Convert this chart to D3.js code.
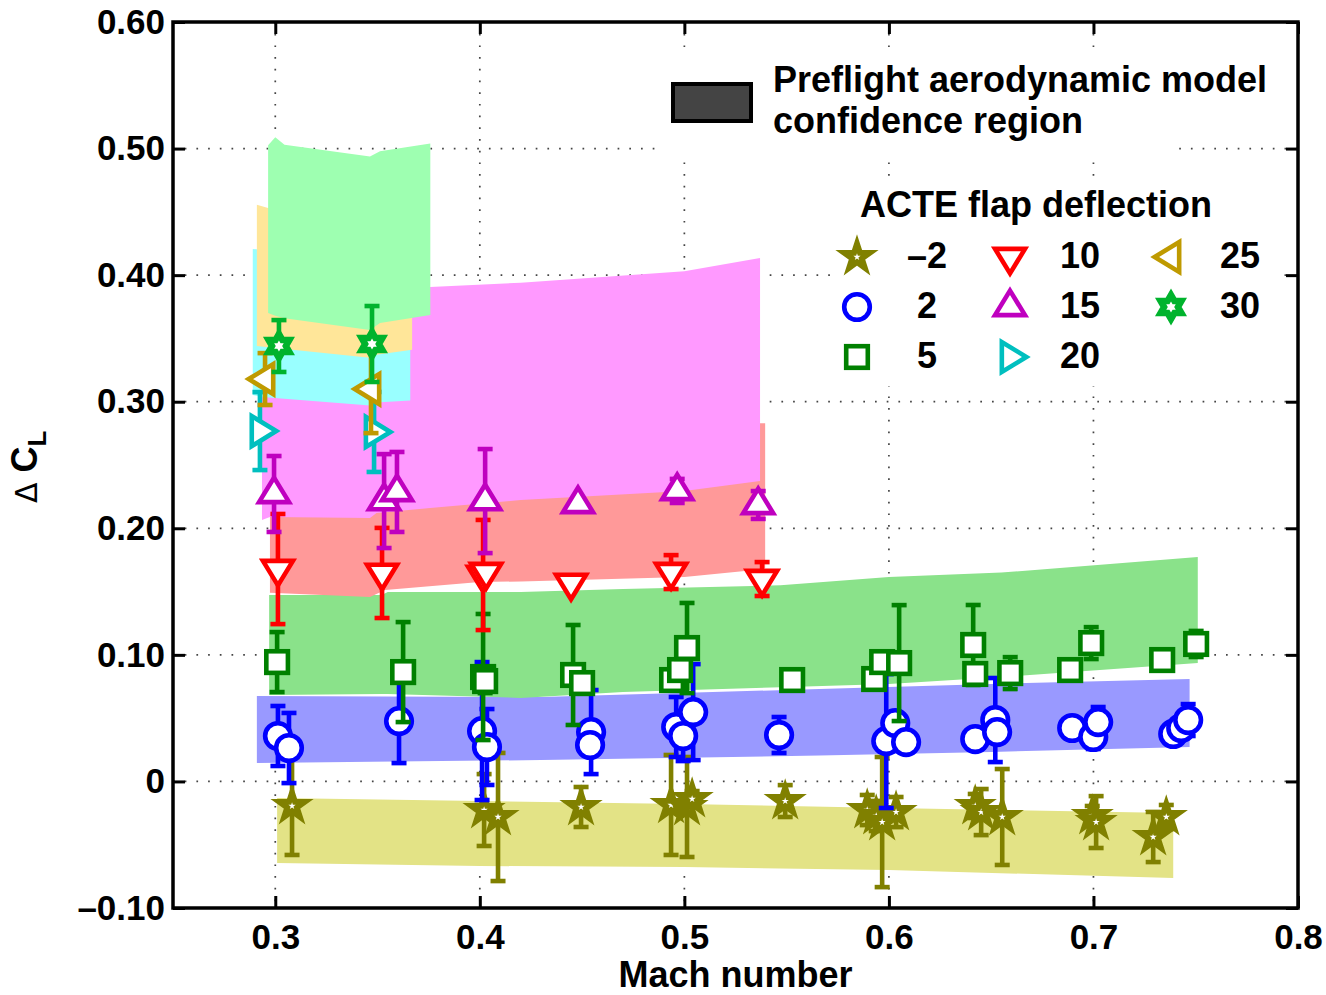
<!DOCTYPE html>
<html>
<head>
<meta charset="utf-8">
<script src="https://cdn.jsdelivr.net/npm/d3@7"></script>
<style>
  body { margin: 0; background: #fff; }
  text { font-family: "Liberation Sans", Arial, Helvetica, sans-serif; font-weight: bold; fill: #000; }
</style>
</head>
<body>
<svg id="chart" width="1326" height="995"></svg>
<script>
// ---------------------------------------------------------------
// Flight-test increments in lift coefficient vs Mach number,
// one series per ACTE flap deflection (Mach, dCL, +/- error)
// ---------------------------------------------------------------
const machFm2 = [0.3082, 0.4021, 0.4089, 0.4495, 0.4935, 0.5013, 0.5038, 0.5493, 0.5894, 0.5938, 0.5967, 0.6035, 0.6422, 0.6451, 0.6554, 0.6994, 0.7013, 0.7292, 0.7356];
const dclFm2  = [-0.0194, -0.0226, -0.0281, -0.0202, -0.0186, -0.0202, -0.0139, -0.0155, -0.0226, -0.0273, -0.0321, -0.0242, -0.0194, -0.0242, -0.0281, -0.0273, -0.0321, -0.0439, -0.0281];
const errFm2  = [0.0387, 0.0284, 0.0506, 0.0158, 0.0395, 0.0395, 0.0063, 0.0126, 0.0119, 0.0119, 0.0514, 0.0119, 0.0095, 0.0182, 0.0379, 0.0079, 0.0205, 0.0198, 0.0095];

const machF2 = [0.3013, 0.3067, 0.3605, 0.4011, 0.4035, 0.4544, 0.4539, 0.4960, 0.4994, 0.5043, 0.5463, 0.5987, 0.6031, 0.6084, 0.6422, 0.6520, 0.6529, 0.6896, 0.6999, 0.7023, 0.7390, 0.7429, 0.7463];
const dclF2  = [0.0359, 0.0264, 0.0477, 0.0398, 0.0272, 0.0390, 0.0288, 0.0430, 0.0359, 0.0548, 0.0367, 0.0319, 0.0461, 0.0311, 0.0335, 0.0485, 0.0390, 0.0422, 0.0351, 0.0469, 0.0375, 0.0422, 0.0485];
const errF2  = [0.0237, 0.0277, 0.0332, 0.0545, 0.0300, 0.0332, 0.0079, 0.0237, 0.0198, 0.0379, 0.0142, 0.0529, 0.0063, 0.0063, 0.0063, 0.0332, 0.0063, 0.0047, 0.0095, 0.0119, 0.0047, 0.0047, 0.0126];

const machF5 = [0.3009, 0.3625, 0.4016, 0.4026, 0.4456, 0.4500, 0.4940, 0.4979, 0.5013, 0.5527, 0.5928, 0.5967, 0.6050, 0.6412, 0.6422, 0.6593, 0.6886, 0.6989, 0.7336, 0.7502];
const dclF5  = [0.0943, 0.0864, 0.0825, 0.0793, 0.0841, 0.0777, 0.0801, 0.0880, 0.1054, 0.0801, 0.0809, 0.0943, 0.0935, 0.1078, 0.0849, 0.0856, 0.0880, 0.1093, 0.0959, 0.1086];
const errF5  = [0.0237, 0.0395, 0.0498, 0.0095, 0.0395, 0, 0, 0, 0.0356, 0.0047, 0, 0, 0.0458, 0.0316, 0, 0.0126, 0, 0.0126, 0, 0.0103];

const machF10 = [0.3013, 0.3522, 0.4016, 0.4031, 0.4446, 0.4935, 0.5380];
const dclF10  = [0.1678, 0.1647, 0.1631, 0.1654, 0.1568, 0.1654, 0.1599];
const errF10  = [0.0435, 0.0356, 0.0435, 0, 0, 0.0134, 0.0134];

const machF15 = [0.2994, 0.3532, 0.3595, 0.4026, 0.4480, 0.4965, 0.5361];
const dclF15  = [0.2271, 0.2215, 0.2287, 0.2215, 0.2192, 0.2295, 0.2184];
const errF15  = [0.0300, 0.0371, 0.0316, 0.0411, 0, 0.0095, 0.0110];

const machF20 = [0.2925, 0.3483];
const dclF20  = [0.2768, 0.2761];
const errF20  = [0.0308, 0.0316];

const machF25 = [0.2950, 0.3468];
const dclF25  = [0.3179, 0.3100];
const errF25  = [0.0205, 0.0348];

const machF30 = [0.3018, 0.3473];
const dclF30  = [0.3440, 0.3456];
const errF30  = [0.0205, 0.0300];

// ---------------------------------------------------------------
// Preflight aerodynamic model confidence bands (Mach, upper, lower)
// ---------------------------------------------------------------
const bandMachFm2 = [0.3009, 0.40, 0.50, 0.60, 0.739];
const bandHiFm2   = [-0.0130, -0.0155, -0.0178, -0.0210, -0.0249];
const bandLoFm2   = [-0.0644, -0.0668, -0.0676, -0.0700, -0.0763];

const bandMachF2 = [0.291, 0.43, 0.566, 0.65, 0.747];
const bandHiF2   = [0.0675, 0.0667, 0.0730, 0.0770, 0.0809];
const bandLoF2   = [0.0145, 0.0169, 0.0205, 0.0233, 0.0272];

const bandMachF5 = [0.297, 0.352, 0.355, 0.42, 0.47, 0.547, 0.60, 0.655, 0.751];
const bandHiF5   = [0.1473, 0.1473, 0.1497, 0.1497, 0.1520, 0.1550, 0.1615, 0.1650, 0.1773];
const bandLoF5   = [0.0683, 0.0690, 0.0690, 0.0660, 0.0707, 0.0745, 0.0770, 0.0825, 0.0936];

const bandMachF10 = [0.2974, 0.3463, 0.3537, 0.40, 0.42, 0.50, 0.537, 0.5395];
const bandHiF10   = [0.250, 0.255, 0.260, 0.265, 0.270, 0.278, 0.283, 0.283];
const bandLoF10   = [0.1490, 0.1457, 0.1512, 0.1575, 0.1580, 0.1615, 0.1675, 0.1686];

const bandMachF15 = [0.2935, 0.2974, 0.3463, 0.3495, 0.3757, 0.42, 0.50, 0.537];
const bandHiF15   = [0.385, 0.385, 0.388, 0.388, 0.3906, 0.394, 0.403, 0.4135];
const bandLoF15   = [0.2066, 0.2089, 0.2081, 0.2120, 0.2160, 0.2223, 0.2294, 0.2374];

const bandMachF20 = [0.289, 0.2935, 0.3463, 0.3495, 0.366];
const bandHiF20   = [0.4207, 0.420, 0.410, 0.410, 0.410];
const bandLoF20   = [0.3053, 0.3037, 0.2970, 0.2993, 0.3010];

const bandMachF25 = [0.291, 0.2965, 0.3463, 0.3495, 0.3669];
const bandHiF25   = [0.4556, 0.453, 0.450, 0.450, 0.450];
const bandLoF25   = [0.3440, 0.3430, 0.3347, 0.3371, 0.3410];

const bandMachF30 = [0.2965, 0.300, 0.3045, 0.3463, 0.3512, 0.3758];
const bandHiF30   = [0.5027, 0.509, 0.503, 0.4938, 0.4978, 0.5041];
const bandLoF30   = [0.3701, 0.368, 0.366, 0.3566, 0.3622, 0.3685];

// Axis ticks and legend labels
const xTickValues = [0.3, 0.4, 0.5, 0.6, 0.7, 0.8];
const yTickValues = [-0.1, 0, 0.1, 0.2, 0.3, 0.4, 0.5, 0.6];
const deflectionLabels = ["\u20132", "2", "5", "10", "15", "20", "25", "30"];
const bandLegendLines = ["Preflight aerodynamic model", "confidence region"];
const deflectionTitle = "ACTE flap deflection";

// ---------------------------------------------------------------
const series = [
  { mach: machFm2, dcl: dclFm2, err: errFm2, bm: bandMachFm2, bh: bandHiFm2, bl: bandLoFm2 },
  { mach: machF2,  dcl: dclF2,  err: errF2,  bm: bandMachF2,  bh: bandHiF2,  bl: bandLoF2 },
  { mach: machF5,  dcl: dclF5,  err: errF5,  bm: bandMachF5,  bh: bandHiF5,  bl: bandLoF5 },
  { mach: machF10, dcl: dclF10, err: errF10, bm: bandMachF10, bh: bandHiF10, bl: bandLoF10 },
  { mach: machF15, dcl: dclF15, err: errF15, bm: bandMachF15, bh: bandHiF15, bl: bandLoF15 },
  { mach: machF20, dcl: dclF20, err: errF20, bm: bandMachF20, bh: bandHiF20, bl: bandLoF20 },
  { mach: machF25, dcl: dclF25, err: errF25, bm: bandMachF25, bh: bandHiF25, bl: bandLoF25 },
  { mach: machF30, dcl: dclF30, err: errF30, bm: bandMachF30, bh: bandHiF30, bl: bandLoF30 }
];

// Marker shape, marker colour and band fill for each deflection
const styles = [
  { shape: "star",     color: "#808000", band: "#e3e386" },
  { shape: "circle",   color: "#0000ff", band: "#9999ff" },
  { shape: "square",   color: "#008000", band: "#8ae28a" },
  { shape: "down",     color: "#ff0000", band: "#ff9999" },
  { shape: "up",       color: "#bf00bf", band: "#ff99ff" },
  { shape: "right",    color: "#00bfbf", band: "#99ffff" },
  { shape: "left",     color: "#bf9a00", band: "#ffe699" },
  { shape: "hexagram", color: "#00b32d", band: "#9effb1" }
];

const W = 1326, H = 995;
const plot = { left: 173, right: 1298, top: 22, bottom: 908 };
const markerStroke = 4.6;
const barStroke = 4.6;

const x = d3.scaleLinear().domain([0.25, 0.8]).range([plot.left, plot.right]);
const y = d3.scaleLinear().domain([-0.1, 0.6]).range([plot.bottom, plot.top]);

const svg = d3.select("#chart");
svg.append("rect").attr("width", W).attr("height", H).attr("fill", "#fff");

// ----- dotted grid -----
const grid = svg.append("g").attr("stroke", "#444").attr("stroke-width", 1.7)
  .attr("stroke-dasharray", "1.7,10");
xTickValues.filter(v => v < 0.8).forEach(v => {
  grid.append("line").attr("x1", x(v)).attr("x2", x(v)).attr("y1", plot.top).attr("y2", plot.bottom);
});
yTickValues.filter(v => v > -0.1 && v < 0.6).forEach(v => {
  grid.append("line").attr("x1", plot.left).attr("x2", plot.right).attr("y1", y(v)).attr("y2", y(v));
});

// legend backgrounds hide the grid beneath them
svg.append("rect").attr("x", 655).attr("y", 48).attr("width", 520).attr("height", 112).attr("fill", "#fff");
svg.append("rect").attr("x", 830).attr("y", 176).attr("width", 450).attr("height", 210).attr("fill", "#fff");

// ----- confidence bands -----
const area = d3.area()
  .x(d => x(d.m))
  .y0(d => y(d.lo))
  .y1(d => y(d.hi));
const bandLayer = svg.append("g");
series.forEach((s, i) => {
  const pts = s.bm.map((m, k) => ({ m: m, hi: s.bh[k], lo: s.bl[k] }));
  bandLayer.append("path").attr("d", area(pts)).attr("fill", styles[i].band).attr("stroke", "none");
});

// ----- marker shapes -----
function pathFrom(pts) {
  return "M" + pts.map(p => p[0].toFixed(2) + "," + p[1].toFixed(2)).join("L") + "Z";
}
function starPoints(n, R, r) {
  const pts = [];
  for (let i = 0; i < 2 * n; i++) {
    const a = -Math.PI / 2 + i * Math.PI / n;
    const rad = i % 2 ? r : R;
    pts.push([rad * Math.cos(a), rad * Math.sin(a)]);
  }
  return pts;
}
function trianglePoints(dir, b, h) {
  const base = [[0, -2 * h / 3], [b / 2, h / 3], [-b / 2, h / 3]];
  const rot = { up: 0, right: 90, down: 180, left: 270 }[dir] * Math.PI / 180;
  return base.map(([px, py]) => [px * Math.cos(rot) - py * Math.sin(rot), px * Math.sin(rot) + py * Math.cos(rot)]);
}

function drawMarker(g, shape, color, cx, cy) {
  const t = "translate(" + cx + "," + cy + ")";
  if (shape === "circle") {
    g.append("circle").attr("cx", cx).attr("cy", cy).attr("r", 12.8)
      .attr("fill", "#fff").attr("stroke", color).attr("stroke-width", markerStroke);
  } else if (shape === "square") {
    g.append("rect").attr("x", cx - 10.8).attr("y", cy - 10.8).attr("width", 21.6).attr("height", 21.6)
      .attr("fill", "#fff").attr("stroke", color).attr("stroke-width", markerStroke);
  } else if (shape === "up" || shape === "down" || shape === "left" || shape === "right") {
    g.append("path").attr("transform", t).attr("d", pathFrom(trianglePoints(shape, 30, 24.5)))
      .attr("fill", "#fff").attr("stroke", color).attr("stroke-width", markerStroke)
      .attr("stroke-linejoin", "miter").attr("stroke-miterlimit", 10);
  } else if (shape === "star") {
    g.append("path").attr("transform", t).attr("d", pathFrom(starPoints(5, 19.5, 19.5 * 0.382)))
      .attr("fill", color).attr("stroke", color).attr("stroke-width", 2).attr("stroke-linejoin", "miter");
    g.append("path").attr("transform", t).attr("d", pathFrom(starPoints(5, 3.8, 3.8 * 0.382)))
      .attr("fill", "#fff");
  } else if (shape === "hexagram") {
    g.append("path").attr("transform", t).attr("d", pathFrom(starPoints(6, 16.5, 16.5 / Math.sqrt(3))))
      .attr("fill", color).attr("stroke", color).attr("stroke-width", 2);
    g.append("path").attr("transform", t).attr("d", pathFrom(starPoints(6, 5.5, 5.5 / Math.sqrt(3))))
      .attr("fill", "#fff");
  }
}

// ----- error bars and markers, one series after another -----
const capHalf = 7.5;
series.forEach((s, i) => {
  const st = styles[i];
  const g = svg.append("g");
  s.mach.forEach((m, k) => {
    const e = s.err[k];
    if (e > 0) {
      const cx = x(m), yTop = y(s.dcl[k] + e), yBot = y(s.dcl[k] - e);
      g.append("line").attr("x1", cx).attr("x2", cx).attr("y1", yTop).attr("y2", yBot)
        .attr("stroke", st.color).attr("stroke-width", barStroke);
      [yTop, yBot].forEach(yy => {
        g.append("line").attr("x1", cx - capHalf).attr("x2", cx + capHalf).attr("y1", yy).attr("y2", yy)
          .attr("stroke", st.color).attr("stroke-width", barStroke);
      });
    }
  });
  s.mach.forEach((m, k) => drawMarker(g, st.shape, st.color, x(m), y(s.dcl[k])));
});

// ----- axes (ticks point inward on all four sides) -----
const fmtY = v => v === 0 ? "0" : (v < 0 ? "\u2013" + Math.abs(v).toFixed(2) : v.toFixed(2));

const xAxis = svg.append("g").attr("transform", "translate(0," + plot.bottom + ")")
  .call(d3.axisBottom(x).tickValues(xTickValues).tickSize(-12).tickPadding(16).tickFormat(d3.format(".1f")));
const yAxis = svg.append("g").attr("transform", "translate(" + plot.left + ",0)")
  .call(d3.axisLeft(y).tickValues(yTickValues).tickSize(-12).tickPadding(8).tickFormat(fmtY));
const xTop = svg.append("g").attr("transform", "translate(0," + plot.top + ")")
  .call(d3.axisTop(x).tickValues(xTickValues).tickSize(-12).tickFormat(""));
const yRight = svg.append("g").attr("transform", "translate(" + plot.right + ",0)")
  .call(d3.axisRight(y).tickValues(yTickValues).tickSize(-12).tickFormat(""));

[xAxis, yAxis, xTop, yRight].forEach(a => {
  a.select(".domain").remove();
  a.selectAll(".tick line").attr("stroke", "#000").attr("stroke-width", 3);
  a.selectAll("text").attr("font-size", 35).attr("font-family", null).attr("fill", "#000");
});

svg.append("rect")
  .attr("x", plot.left).attr("y", plot.top)
  .attr("width", plot.right - plot.left).attr("height", plot.bottom - plot.top)
  .attr("fill", "none").attr("stroke", "#000").attr("stroke-width", 3.5);

// axis titles
svg.append("text").attr("x", (plot.left + plot.right) / 2).attr("y", 987)
  .attr("text-anchor", "middle").attr("font-size", 36).text("Mach number");

const yTitle = svg.append("text").attr("transform", "translate(37,503) rotate(-90)")
  .attr("font-size", 36);
yTitle.append("tspan").attr("font-weight", "normal").attr("font-family", "'DejaVu Sans', sans-serif")
  .attr("font-size", 30).text("\u0394");
yTitle.append("tspan").text(" C");
yTitle.append("tspan").attr("font-size", 26).attr("dy", 9).text("L");

// ----- legend: model confidence region -----
svg.append("rect").attr("x", 673).attr("y", 84).attr("width", 78).attr("height", 37)
  .attr("fill", "#444").attr("stroke", "#000").attr("stroke-width", 4);
bandLegendLines.forEach((line, k) => {
  svg.append("text").attr("x", 773).attr("y", 92 + k * 41).attr("font-size", 36).text(line);
});

// ----- legend: flap deflections -----
svg.append("text").attr("x", 860).attr("y", 217).attr("font-size", 36).text(deflectionTitle);
const legendCols = [
  { mx: 857, tx: 927 },
  { mx: 1010, tx: 1080 },
  { mx: 1171, tx: 1240 }
];
const legendRows = [257, 307, 357];
const legendOrder = [[0, 0, 0], [1, 0, 1], [2, 0, 2], [3, 1, 0], [4, 1, 1], [5, 1, 2], [6, 2, 0], [7, 2, 1]];
const legendG = svg.append("g");
legendOrder.forEach(([si, col, row]) => {
  const c = legendCols[col], ry = legendRows[row];
  drawMarker(legendG, styles[si].shape, styles[si].color, c.mx, ry);
  legendG.append("text").attr("x", c.tx).attr("y", ry + 11).attr("text-anchor", "middle")
    .attr("font-size", 36).text(deflectionLabels[si]);
});
</script>
</body>
</html>
